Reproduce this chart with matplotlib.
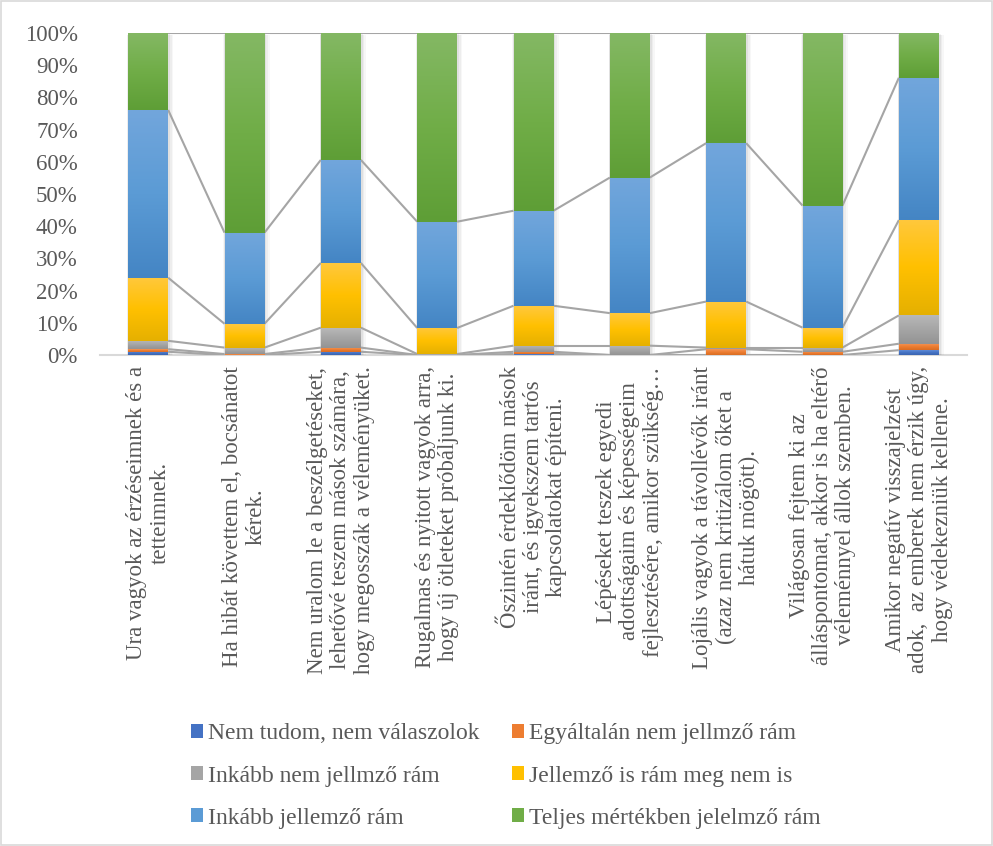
import numpy as np
import matplotlib
matplotlib.use("Agg")
import matplotlib.pyplot as plt
from matplotlib.colors import LinearSegmentedColormap
from matplotlib.patches import Patch, Rectangle

categories = [
    "Ura vagyok az érzéseimnek és a\ntetteimnek.",
    "Ha hibát követtem el, bocsánatot\nkérek.",
    "Nem uralom le a beszélgetéseket,\nlehetővé teszem mások számára,\nhogy megosszák a véleményüket.",
    "Rugalmas és nyitott vagyok arra,\nhogy új ötleteket próbáljunk ki.",
    "Őszintén érdeklődöm mások\niránt, és igyekszem tartós\nkapcsolatokat építeni.",
    "Lépéseket teszek egyedi\nadottságaim és képességeim\nfejlesztésére, amikor szükség…",
    "Lojális vagyok a távollévők iránt\n(azaz nem kritizálom őket a\nhátuk mögött).",
    "Világosan fejtem ki az\nálláspontomat, akkor is ha eltérő\nvéleménnyel állok szemben.",
    "Amikor negatív visszajelzést\nadok,  az emberek nem érzik úgy,\nhogy védekezniük kellene.",
]

series_names = [
    "Nem tudom, nem válaszolok",
    "Egyáltalán nem jellmző rám",
    "Inkább nem jellmző rám",
    "Jellemző is rám meg nem is",
    "Inkább jellemző rám",
    "Teljes mértékben jelelmző rám",
]

nem_tudom = [1.0, 0.0, 1.0, 0.0, 0.3, 0.0, 0.0, 0.0, 1.5]
egyaltalan_nem = [0.8, 0.3, 1.3, 0.0, 0.7, 0.0, 1.8, 1.0, 2.0]
inkabb_nem = [2.6, 2.0, 6.2, 0.3, 1.9, 2.9, 0.5, 1.3, 8.8]
jellemzo_is = [19.6, 7.4, 20.1, 8.1, 12.4, 10.1, 14.3, 6.2, 29.6]
inkabb_jellemzo = [52.1, 28.3, 32.0, 33.0, 29.5, 42.1, 49.2, 37.9, 44.2]
teljes = [23.9, 62.0, 39.4, 58.6, 55.2, 44.9, 34.2, 53.6, 13.9]

yticks = [0, 10, 20, 30, 40, 50, 60, 70, 80, 90, 100]
ytick_labels = [f"{v}%" for v in yticks]

series = [nem_tudom, egyaltalan_nem, inkabb_nem, jellemzo_is, inkabb_jellemzo, teljes]
# (light top, base, dark bottom)
grad_colors = [
    ("#5f8bd6", "#4472C4", "#3a64b0"),
    ("#f4965a", "#ED7D31", "#d96c22"),
    ("#b8b8b8", "#A5A5A5", "#939393"),
    ("#ffc83d", "#FFC000", "#e5b000"),
    ("#72a6dc", "#5B9BD5", "#4485c4"),
    ("#84b864", "#70AD47", "#5e9e36"),
]
base_colors = [c[1] for c in grad_colors]

plt.rcParams["font.family"] = ["Liberation Serif", "DejaVu Serif"]
text_color = "#595959"

W, H = 993, 846
fig = plt.figure(figsize=(W / 100, H / 100), dpi=100)
ax = fig.add_axes([100 / W, 1 - 355 / H, 867 / W, 322 / H])

x = np.arange(len(categories))
width = 0.415
data = np.array(series, dtype=float)
totals = data.sum(axis=0)
data = data / totals * 100.0
cum = np.cumsum(data, axis=0)
bottoms = cum - data

ax.set_xlim(-0.5, len(categories) - 0.5)
ax.set_ylim(0, 100)

# shadows
for xi in x:
    for k, a in enumerate([0.05, 0.04, 0.03]):
        off = 0.012 * (k + 1)
        ax.add_patch(Rectangle((xi - width / 2 - off * 0.3, -0.3), width + off * 1.8, 100.3 - off * 20,
                               facecolor="black", alpha=a, edgecolor="none", zorder=1))

for s in range(len(series)):
    cmap = LinearSegmentedColormap.from_list(f"g{s}", [grad_colors[s][2], grad_colors[s][1], grad_colors[s][0]])
    bars = ax.bar(x, data[s], width, bottom=bottoms[s], color=base_colors[s], edgecolor="none",
                  zorder=2, label=series_names[s])
    grad = np.linspace(0, 1, 256).reshape(-1, 1)
    for b in bars:
        bx, by = b.get_x(), b.get_y()
        bw, bh = b.get_width(), b.get_height()
        if bh <= 0:
            continue
        im = ax.imshow(grad, cmap=cmap, origin="lower", aspect="auto",
                       extent=(bx, bx + bw, by, by + bh), zorder=3, interpolation="bilinear")
        im.set_clip_path(b)

ax.set_xlim(-0.5, len(categories) - 0.5)
ax.set_ylim(0, 100)

# series lines
for s in range(len(series)):
    for i in range(len(categories) - 1):
        ax.plot([x[i] + width / 2, x[i + 1] - width / 2], [cum[s][i], cum[s][i + 1]],
                color="#a5a5a5", lw=1.5, zorder=1.5, solid_capstyle="butt")

for sp in ["top", "right", "left"]:
    ax.spines[sp].set_visible(False)
ax.spines["bottom"].set_color("#d9d9d9")
ax.spines["bottom"].set_linewidth(1.5)
ax.spines["bottom"].set_zorder(0.5)

ax.set_yticks(yticks)
ax.set_yticklabels(ytick_labels, fontsize=16.5, color=text_color)
ax.tick_params(axis="y", length=0, pad=16)
ax.set_xticks(x)
ax.set_xticklabels(categories, rotation=90, fontsize=16.5, color=text_color,
                   ha="center", va="top", multialignment="center", linespacing=1.15)
ax.tick_params(axis="x", length=0, pad=8)

handles = [Patch(facecolor=base_colors[i], edgecolor="none") for i in range(6)]
order = [0, 2, 4, 1, 3, 5]
leg = fig.legend([handles[i] for i in order], [series_names[i] for i in order],
                 loc="center", bbox_to_anchor=(506 / W, 1 - 776 / H), ncol=2, frameon=False,
                 fontsize=17, handlelength=0.5, handleheight=0.5, handletextpad=0.2,
                 columnspacing=1.4, labelspacing=0.89, borderpad=0)
for t in leg.get_texts():
    t.set_color(text_color)

fig.patches.append(Rectangle((1 / W, 1 / H), 1 - 2 / W, 1 - 2 / H, transform=fig.transFigure,
                             facecolor="none", edgecolor="#d9d9d9", lw=1.2))

fig.savefig("out.png", dpi=100)
